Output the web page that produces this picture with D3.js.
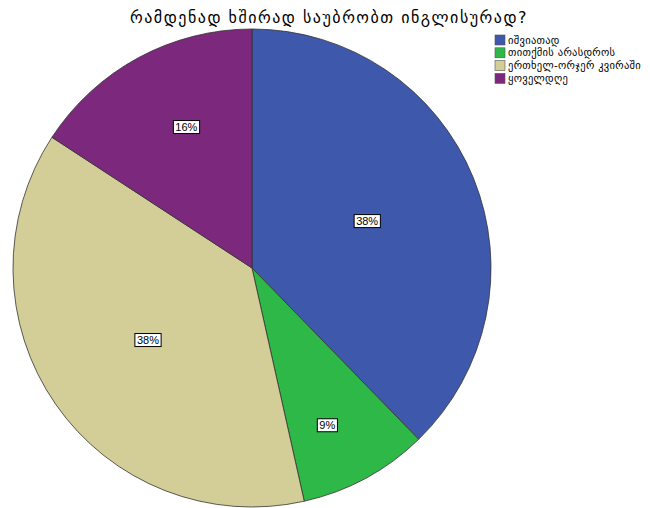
<!DOCTYPE html>
<html>
<head>
<meta charset="utf-8">
<script src="https://cdn.jsdelivr.net/npm/d3@7"></script>
<style>
  body { margin: 0; background: #fff; }
  svg { display: block; }
</style>
</head>
<body>
<svg id="chart" width="650" height="508"></svg>
<script>
const titleText = "რამდენად  ხშირად საუბრობთ ინგლისურად?";
const categories = ["იშვიათად", "თითქმის არასდროს", "ერთხელ-ორჯერ კვირაში", "ყოველდღე"];
const counts = [43, 10, 43, 18];
const colors = ["#3e58ac", "#2eb848", "#d3ce97", "#7c287d"];
// label placement: fraction of radius and small angle nudge (radians)
const labelRadius = [0.52, 0.73, 0.53, 0.65];
const labelNudge = [0, 0.05, 0, 0.06];

const svg = d3.select("#chart");
const cx = 252, cy = 268, r = 239;

svg.append("text")
    .attr("x", 329)
    .attr("y", 23)
    .attr("text-anchor", "middle")
    .style("font-family", "DejaVu Sans, sans-serif")
    .style("font-size", "16px")
    .style("letter-spacing", "1.5px")
    .style("fill", "#000")
    .text(titleText);

const total = d3.sum(counts);
const pie = d3.pie().sort(null).value(d => d)(counts);
const arc = d3.arc().innerRadius(0).outerRadius(r);

const g = svg.append("g").attr("transform", `translate(${cx},${cy})`);

g.selectAll("path")
    .data(pie)
    .join("path")
    .attr("d", arc)
    .attr("fill", (d, i) => colors[i])
    .attr("stroke", "#333")
    .attr("stroke-width", 0.8);

const labels = g.selectAll("g.lab")
    .data(pie)
    .join("g")
    .attr("class", "lab")
    .attr("transform", (d, i) => {
        const a = (d.startAngle + d.endAngle) / 2 + labelNudge[i];
        const rr = r * labelRadius[i];
        return `translate(${Math.sin(a) * rr},${-Math.cos(a) * rr})`;
    });

labels.each(function(d) {
    const sel = d3.select(this);
    const txt = sel.append("text")
        .attr("text-anchor", "middle")
        .attr("dy", "0.35em")
        .style("font-family", "Liberation Sans, Arial, sans-serif")
        .style("font-size", "11px")
        .text(Math.round(d.value / total * 100) + "%");
    const bb = txt.node().getBBox();
    sel.insert("rect", "text")
        .attr("x", bb.x - 2)
        .attr("y", bb.y - 0.5)
        .attr("width", bb.width + 4)
        .attr("height", bb.height + 1)
        .attr("fill", "#fff")
        .attr("stroke", "#000")
        .attr("stroke-width", 1);
});

const legend = svg.append("g").attr("transform", "translate(495,35)");
const item = legend.selectAll("g")
    .data(categories)
    .join("g")
    .attr("transform", (d, i) => `translate(0,${i * 12.8})`);

item.append("rect")
    .attr("width", 10)
    .attr("height", 10)
    .attr("fill", (d, i) => colors[i])
    .attr("stroke", "#555")
    .attr("stroke-width", 0.6);

item.append("text")
    .attr("x", 13)
    .attr("y", 5)
    .attr("dy", "0.35em")
    .style("font-family", "DejaVu Sans, sans-serif")
    .style("font-size", "10.5px")
    .style("letter-spacing", "0.3px")
    .text(d => d);
</script>
</body>
</html>
